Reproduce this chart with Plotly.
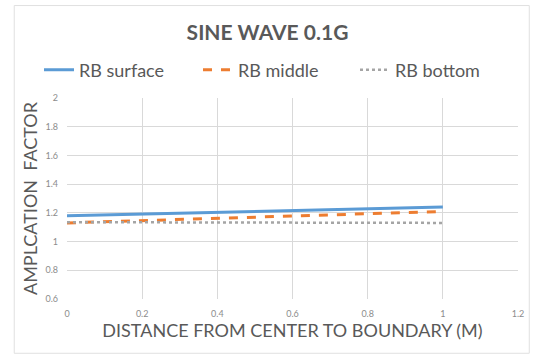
import plotly.graph_objects as go

x_vals = [0, 0.2, 0.4, 0.6, 0.8, 1.0]
surface = [1.18, 1.192, 1.204, 1.216, 1.228, 1.24]
middle = [1.13, 1.146, 1.162, 1.178, 1.194, 1.21]
bottom = [1.135, 1.134, 1.133, 1.132, 1.131, 1.13]

font = "Lato, 'Open Sans', sans-serif"
L, R, T, B = 67, 17, 98, 57
W, H = 535, 356

fig = go.Figure()
fig.add_trace(go.Scatter(x=x_vals, y=surface, mode="lines", name="RB surface", legend="legend",
                         line=dict(color="#5b9bd5", width=3)))
fig.add_trace(go.Scatter(x=x_vals, y=middle, mode="lines", name="RB middle", legend="legend2",
                         line=dict(color="#ed7d31", width=3, dash="dash")))
fig.add_trace(go.Scatter(x=x_vals, y=bottom, mode="lines", name="RB bottom", legend="legend3",
                         line=dict(color="#a5a5a5", width=2.5, dash="dot")))

leg_common = dict(orientation="h", xref="container", yref="container", yanchor="middle", xanchor="left",
                  y=1 - 70 / H, font=dict(size=18, color="#595959"), itemwidth=30,
                  bgcolor="rgba(0,0,0,0)")

fig.update_layout(
    width=W, height=H,
    margin=dict(l=L, r=R, t=T, b=B, autoexpand=False),
    showlegend=True,
    paper_bgcolor="white", plot_bgcolor="white",
    font=dict(family=font, color="#595959"),
    title=dict(text="<b>SINE WAVE 0.1G</b>", x=0.5, xanchor="center", y=1 - 33/356, yanchor="middle",
               font=dict(size=21, color="#595959", family=font)),
    legend=dict(x=39 / W, **leg_common),
    legend2=dict(x=198 / W, **leg_common),
    legend3=dict(x=355 / W, **leg_common),
    xaxis=dict(range=[0, 1.2], dtick=0.2, showgrid=True, gridcolor="#d9d9d9", zeroline=False,
               showline=False, tickfont=dict(size=9, color="#8c8c8c"), ticks="",
               ticklabelstandoff=8,
               title=dict(text="DISTANCE FROM CENTER TO BOUNDARY (M)", font=dict(size=18, color="#595959"),
                          standoff=6)),
    yaxis=dict(range=[0.6, 2], dtick=0.2, showgrid=True, gridcolor="#d9d9d9", zeroline=False,
               showline=False, tickfont=dict(size=9, color="#8c8c8c"), ticks="",
               ticklabelstandoff=8,
               title=dict(text="AMPLCATION  FACTOR", font=dict(size=18, color="#595959"), standoff=3)),
    shapes=[dict(type="rect", xref="paper", yref="paper", x0=-0.117, x1=1.025, y0=-0.27, y1=1.46,
                 line=dict(color="#e0e0e0", width=1))]
)
fig.write_html("out.html")
